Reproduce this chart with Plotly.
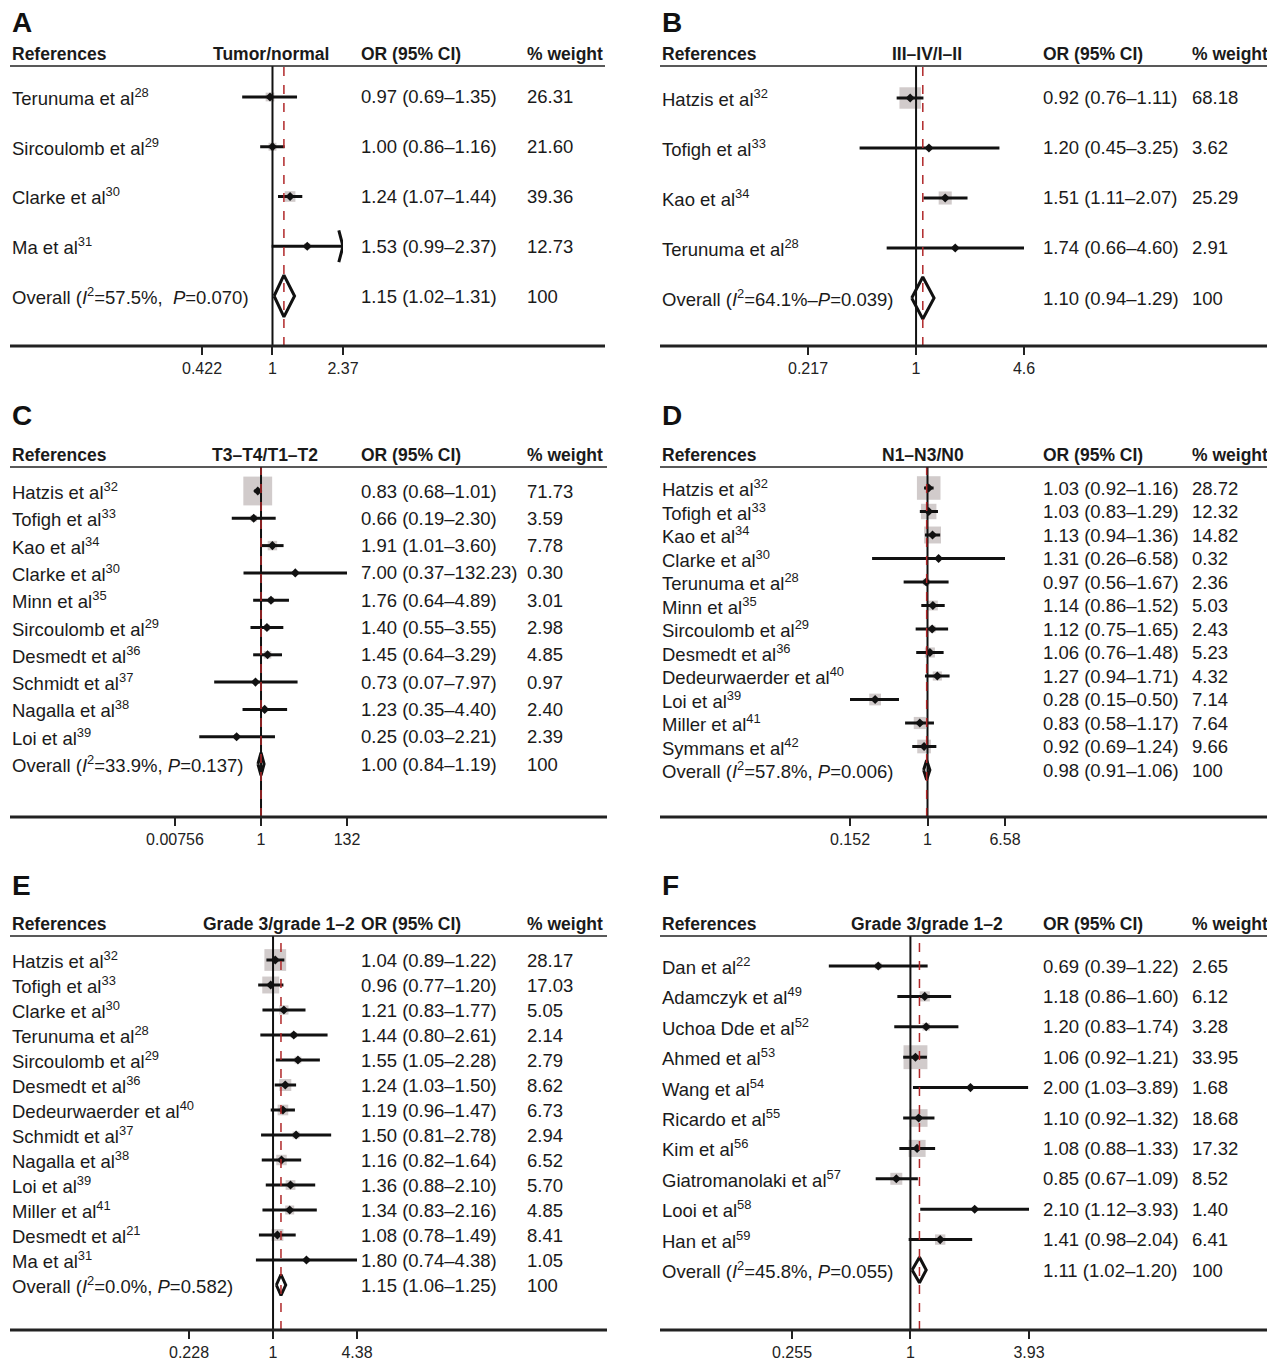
import math
import plotly.graph_objects as go

# the page puts an 8 px margin round the figure, so the figure is 8 px smaller
OFF = 8
W, H = 1275 - OFF, 1361 - OFF
FONT = "Liberation Sans"

# ---- data -------------------------------------------------------------
A_names = ["Terunuma et al", "Sircoulomb et al", "Clarke et al", "Ma et al"]
A_refs = [28, 29, 30, 31]
A_or = [0.97, 1.00, 1.24, 1.53]
A_lo = [0.69, 0.86, 1.07, 0.99]
A_hi = [1.35, 1.16, 1.44, 2.37]
A_wt = [26.31, 21.60, 39.36, 12.73]
A_all = [1.15, 1.02, 1.31]
A_stat = "<i>I</i><sup>2</sup>=57.5%,  <i>P</i>=0.070"

B_names = ["Hatzis et al", "Tofigh et al", "Kao et al", "Terunuma et al"]
B_refs = [32, 33, 34, 28]
B_or = [0.92, 1.20, 1.51, 1.74]
B_lo = [0.76, 0.45, 1.11, 0.66]
B_hi = [1.11, 3.25, 2.07, 4.60]
B_wt = [68.18, 3.62, 25.29, 2.91]
B_all = [1.10, 0.94, 1.29]
B_stat = "<i>I</i><sup>2</sup>=64.1%–<i>P</i>=0.039"

C_names = ["Hatzis et al", "Tofigh et al", "Kao et al", "Clarke et al", "Minn et al",
           "Sircoulomb et al", "Desmedt et al", "Schmidt et al", "Nagalla et al", "Loi et al"]
C_refs = [32, 33, 34, 30, 35, 29, 36, 37, 38, 39]
C_or = [0.83, 0.66, 1.91, 7.00, 1.76, 1.40, 1.45, 0.73, 1.23, 0.25]
C_lo = [0.68, 0.19, 1.01, 0.37, 0.64, 0.55, 0.64, 0.07, 0.35, 0.03]
C_hi = [1.01, 2.30, 3.60, 132.23, 4.89, 3.55, 3.29, 7.97, 4.40, 2.21]
C_wt = [71.73, 3.59, 7.78, 0.30, 3.01, 2.98, 4.85, 0.97, 2.40, 2.39]
C_all = [1.00, 0.84, 1.19]
C_stat = "<i>I</i><sup>2</sup>=33.9%, <i>P</i>=0.137"

D_names = ["Hatzis et al", "Tofigh et al", "Kao et al", "Clarke et al", "Terunuma et al",
           "Minn et al", "Sircoulomb et al", "Desmedt et al", "Dedeurwaerder et al",
           "Loi et al", "Miller et al", "Symmans et al"]
D_refs = [32, 33, 34, 30, 28, 35, 29, 36, 40, 39, 41, 42]
D_or = [1.03, 1.03, 1.13, 1.31, 0.97, 1.14, 1.12, 1.06, 1.27, 0.28, 0.83, 0.92]
D_lo = [0.92, 0.83, 0.94, 0.26, 0.56, 0.86, 0.75, 0.76, 0.94, 0.15, 0.58, 0.69]
D_hi = [1.16, 1.29, 1.36, 6.58, 1.67, 1.52, 1.65, 1.48, 1.71, 0.50, 1.17, 1.24]
D_wt = [28.72, 12.32, 14.82, 0.32, 2.36, 5.03, 2.43, 5.23, 4.32, 7.14, 7.64, 9.66]
D_all = [0.98, 0.91, 1.06]
D_stat = "<i>I</i><sup>2</sup>=57.8%, <i>P</i>=0.006"

E_names = ["Hatzis et al", "Tofigh et al", "Clarke et al", "Terunuma et al", "Sircoulomb et al",
           "Desmedt et al", "Dedeurwaerder et al", "Schmidt et al", "Nagalla et al", "Loi et al",
           "Miller et al", "Desmedt et al", "Ma et al"]
E_refs = [32, 33, 30, 28, 29, 36, 40, 37, 38, 39, 41, 21, 31]
E_or = [1.04, 0.96, 1.21, 1.44, 1.55, 1.24, 1.19, 1.50, 1.16, 1.36, 1.34, 1.08, 1.80]
E_lo = [0.89, 0.77, 0.83, 0.80, 1.05, 1.03, 0.96, 0.81, 0.82, 0.88, 0.83, 0.78, 0.74]
E_hi = [1.22, 1.20, 1.77, 2.61, 2.28, 1.50, 1.47, 2.78, 1.64, 2.10, 2.16, 1.49, 4.38]
E_wt = [28.17, 17.03, 5.05, 2.14, 2.79, 8.62, 6.73, 2.94, 6.52, 5.70, 4.85, 8.41, 1.05]
E_all = [1.15, 1.06, 1.25]
E_stat = "<i>I</i><sup>2</sup>=0.0%, <i>P</i>=0.582"

F_names = ["Dan et al", "Adamczyk et al", "Uchoa Dde et al", "Ahmed et al", "Wang et al",
           "Ricardo et al", "Kim et al", "Giatromanolaki et al", "Looi et al", "Han et al"]
F_refs = [22, 49, 52, 53, 54, 55, 56, 57, 58, 59]
F_or = [0.69, 1.18, 1.20, 1.06, 2.00, 1.10, 1.08, 0.85, 2.10, 1.41]
F_lo = [0.39, 0.86, 0.83, 0.92, 1.03, 0.92, 0.88, 0.67, 1.12, 0.98]
F_hi = [1.22, 1.60, 1.74, 1.21, 3.89, 1.32, 1.33, 1.09, 3.93, 2.04]
F_wt = [2.65, 6.12, 3.28, 33.95, 1.68, 18.68, 17.32, 8.52, 1.40, 6.41]
F_all = [1.11, 1.02, 1.20]
F_stat = "<i>I</i><sup>2</sup>=45.8%, <i>P</i>=0.055"

# axis tick values of each panel (lower, 1, upper)
A_ticks = [0.422, 1, 2.37]
B_ticks = [0.217, 1, 4.6]
C_ticks = [0.00756, 1, 132]
D_ticks = [0.152, 1, 6.58]
E_ticks = [0.228, 1, 4.38]
F_ticks = [0.255, 1, 3.93]
A_tlab = ["0.422", "1", "2.37"]
B_tlab = ["0.217", "1", "4.6"]
C_tlab = ["0.00756", "1", "132"]
D_tlab = ["0.152", "1", "6.58"]
E_tlab = ["0.228", "1", "4.38"]
F_tlab = ["0.255", "1", "3.93"]

panels = [
    dict(letter="A", title="Tumor/normal", names=A_names, refs=A_refs, est=A_or, lo=A_lo, hi=A_hi,
         wt=A_wt, all=A_all, stat=A_stat, ticks=A_ticks, tlab=A_tlab,
         x0=10, x1=605, tx=(202, 343), lety=22, hy=54, uy=66, by=346, ry=(97, 296), ttl=329, box=1.7),
    dict(letter="B", title="III–IV/I–II", names=B_names, refs=B_refs, est=B_or, lo=B_lo, hi=B_hi,
         wt=B_wt, all=B_all, stat=B_stat, ticks=B_ticks, tlab=B_tlab,
         x0=660, x1=1272, tx=(808, 1024), lety=22, hy=54, uy=66, by=346, ry=(98, 298), ttl=962, box=2.6),
    dict(letter="C", title="T3–T4/T1–T2", names=C_names, refs=C_refs, est=C_or, lo=C_lo, hi=C_hi,
         wt=C_wt, all=C_all, stat=C_stat, ticks=C_ticks, tlab=C_tlab,
         x0=10, x1=607, tx=(175, 347), lety=416, hy=455, uy=467, by=817, ry=(491, 764), ttl=318, box=3.4),
    dict(letter="D", title="N1–N3/N0", names=D_names, refs=D_refs, est=D_or, lo=D_lo, hi=D_hi,
         wt=D_wt, all=D_all, stat=D_stat, ticks=D_ticks, tlab=D_tlab,
         x0=660, x1=1272, tx=(850, 1005), lety=416, hy=455, uy=467, by=817, ry=(488, 770), ttl=964, box=4.4),
    dict(letter="E", title="Grade 3/grade 1–2", names=E_names, refs=E_refs, est=E_or, lo=E_lo, hi=E_hi,
         wt=E_wt, all=E_all, stat=E_stat, ticks=E_ticks, tlab=E_tlab,
         x0=10, x1=607, tx=(189, 357), lety=885, hy=924, uy=936, by=1330, ry=(960, 1285), ttl=355, box=4.1),
    dict(letter="F", title="Grade 3/grade 1–2", names=F_names, refs=F_refs, est=F_or, lo=F_lo, hi=F_hi,
         wt=F_wt, all=F_all, stat=F_stat, ticks=F_ticks, tlab=F_tlab,
         x0=660, x1=1272, tx=(792, 1029), lety=885, hy=924, uy=936, by=1330, ry=(966, 1270), ttl=1003, box=4.1),
]


def px(x):
    return (x - OFF) / W


def py(y):
    return 1 - (y - OFF) / H


def note(text, x, y, yref, anchor, font):
    return dict(text=text, x=x, y=y, xref="paper", yref=yref, xanchor=anchor,
                yanchor="middle", showarrow=False, font=font, borderpad=0, borderwidth=0)


fig = go.Figure()
annotations = []
shapes = []
layout = {}

for k, p in enumerate(panels, start=1):
    xa = "x" if k == 1 else f"x{k}"
    ya = "y" if k == 1 else f"y{k}"
    n = len(p["names"])
    rows = list(range(n + 1))
    step = (p["ry"][1] - p["ry"][0]) / n
    lo_lim, hi_lim = p["ticks"][0], p["ticks"][2]

    layout["xaxis" if k == 1 else f"xaxis{k}"] = dict(
        type="log", domain=[px(p["tx"][0]), px(p["tx"][1])],
        range=[math.log10(lo_lim), math.log10(hi_lim)], anchor=ya,
        tickvals=p["ticks"], ticktext=p["tlab"], ticks="outside", ticklen=8, tickwidth=2,
        tickcolor="#222", showgrid=False, zeroline=False, showline=False,
        tickfont=dict(family=FONT, size=16, color="#222"), fixedrange=True)
    layout["yaxis" if k == 1 else f"yaxis{k}"] = dict(
        domain=[py(p["by"]), py(p["uy"])], anchor=xa,
        range=[(p["by"] - p["ry"][0]) / step, (p["uy"] - p["ry"][0]) / step],
        visible=False, fixedrange=True)

    # reference lines
    shapes.append(dict(type="line", xref=xa, yref=f"{ya} domain", x0=1, x1=1, y0=0, y1=1,
                       line=dict(color="#111", width=2)))
    shapes.append(dict(type="line", xref=xa, yref=f"{ya} domain", x0=p["all"][0], x1=p["all"][0],
                       y0=0, y1=1, line=dict(color="#b0282a", width=1.5, dash="dash")))
    shapes.append(dict(type="line", xref="paper", yref="paper", x0=px(p["x0"]), x1=px(p["x1"]),
                       y0=py(p["uy"]), y1=py(p["uy"]), line=dict(color="#222", width=1.5)))
    shapes.append(dict(type="line", xref="paper", yref="paper", x0=px(p["x0"]), x1=px(p["x1"]),
                       y0=py(p["by"]), y1=py(p["by"]), line=dict(color="#222", width=3)))

    # weight boxes
    fig.add_trace(go.Scatter(
        x=p["est"], y=rows[:n], mode="markers", xaxis=xa, yaxis=ya, cliponaxis=False,
        marker=dict(symbol="square", color="#bdb5b5",
                    size=[p["box"] * math.sqrt(w) for w in p["wt"]], line=dict(width=0)),
        hoverinfo="skip", showlegend=False))
    # CI lines
    cx, cy = [], []
    for i in range(n):
        cx += [p["lo"][i], min(p["hi"][i], hi_lim), None]
        cy += [i, i, None]
        if p["hi"][i] > hi_lim * 0.999 and p["letter"] == "A":
            cx += [hi_lim * 0.95, hi_lim, hi_lim * 0.95, None]
            cy += [i - 0.32, i, i + 0.32, None]
    fig.add_trace(go.Scatter(x=cx, y=cy, mode="lines", xaxis=xa, yaxis=ya, cliponaxis=False,
                             line=dict(color="#111", width=3), hoverinfo="skip", showlegend=False))
    # point estimates
    fig.add_trace(go.Scatter(x=p["est"], y=rows[:n], mode="markers", xaxis=xa, yaxis=ya,
                             cliponaxis=False, marker=dict(symbol="diamond", color="#111", size=7),
                             showlegend=False))
    # overall diamond
    e, l, h = p["all"]
    d = 0.42
    fig.add_trace(go.Scatter(x=[l, e, h, e, l], y=[n, n - d, n, n + d, n], mode="lines",
                             fill="toself", fillcolor="white", xaxis=xa, yaxis=ya, cliponaxis=False,
                             line=dict(color="#111", width=3), hoverinfo="skip", showlegend=False))

    # texts
    lx = px(p["x0"] + 2)
    orx = px(361 if p["x0"] < 600 else 1043)
    wtx = px(527 if p["x0"] < 600 else 1192)
    tf = dict(family=FONT, size=18.5, color="#1a1a1a")
    hf = dict(family=FONT, size=17.5, color="#1a1a1a")
    annotations.append(note(f"<b>{p['letter']}</b>", lx, py(p["lety"]), "paper", "left",
                            dict(family=FONT, size=28, color="#111")))
    for txt, xx, anc in [("<b>References</b>", lx, "left"), (f"<b>{p['title']}</b>", px(p["ttl"]), "right"),
                         ("<b>OR (95% CI)</b>", orx, "left"), ("<b>% weight</b>", wtx, "left")]:
        annotations.append(note(txt, xx, py(p["hy"]), "paper", anc, hf))
    for i in range(n):
        annotations.append(note(f"{p['names'][i]}<sup>{p['refs'][i]}</sup>", lx, i, ya, "left", tf))
        annotations.append(note(f"{p['est'][i]:.2f} ({p['lo'][i]:.2f}–{p['hi'][i]:.2f})",
                                orx, i, ya, "left", tf))
        annotations.append(note(f"{p['wt'][i]:.2f}", wtx, i, ya, "left", tf))
    annotations.append(note(f"Overall ({p['stat']})", lx, n, ya, "left", tf))
    annotations.append(note(f"{e:.2f} ({l:.2f}–{h:.2f})", orx, n, ya, "left", tf))
    annotations.append(note("100", wtx, n, ya, "left", tf))

fig.update_layout(width=W, height=H, margin=dict(l=0, r=0, t=0, b=0, autoexpand=False),
                  paper_bgcolor="white", plot_bgcolor="white", showlegend=False,
                  annotations=annotations, shapes=shapes, **layout)
fig.write_html("out.html")
